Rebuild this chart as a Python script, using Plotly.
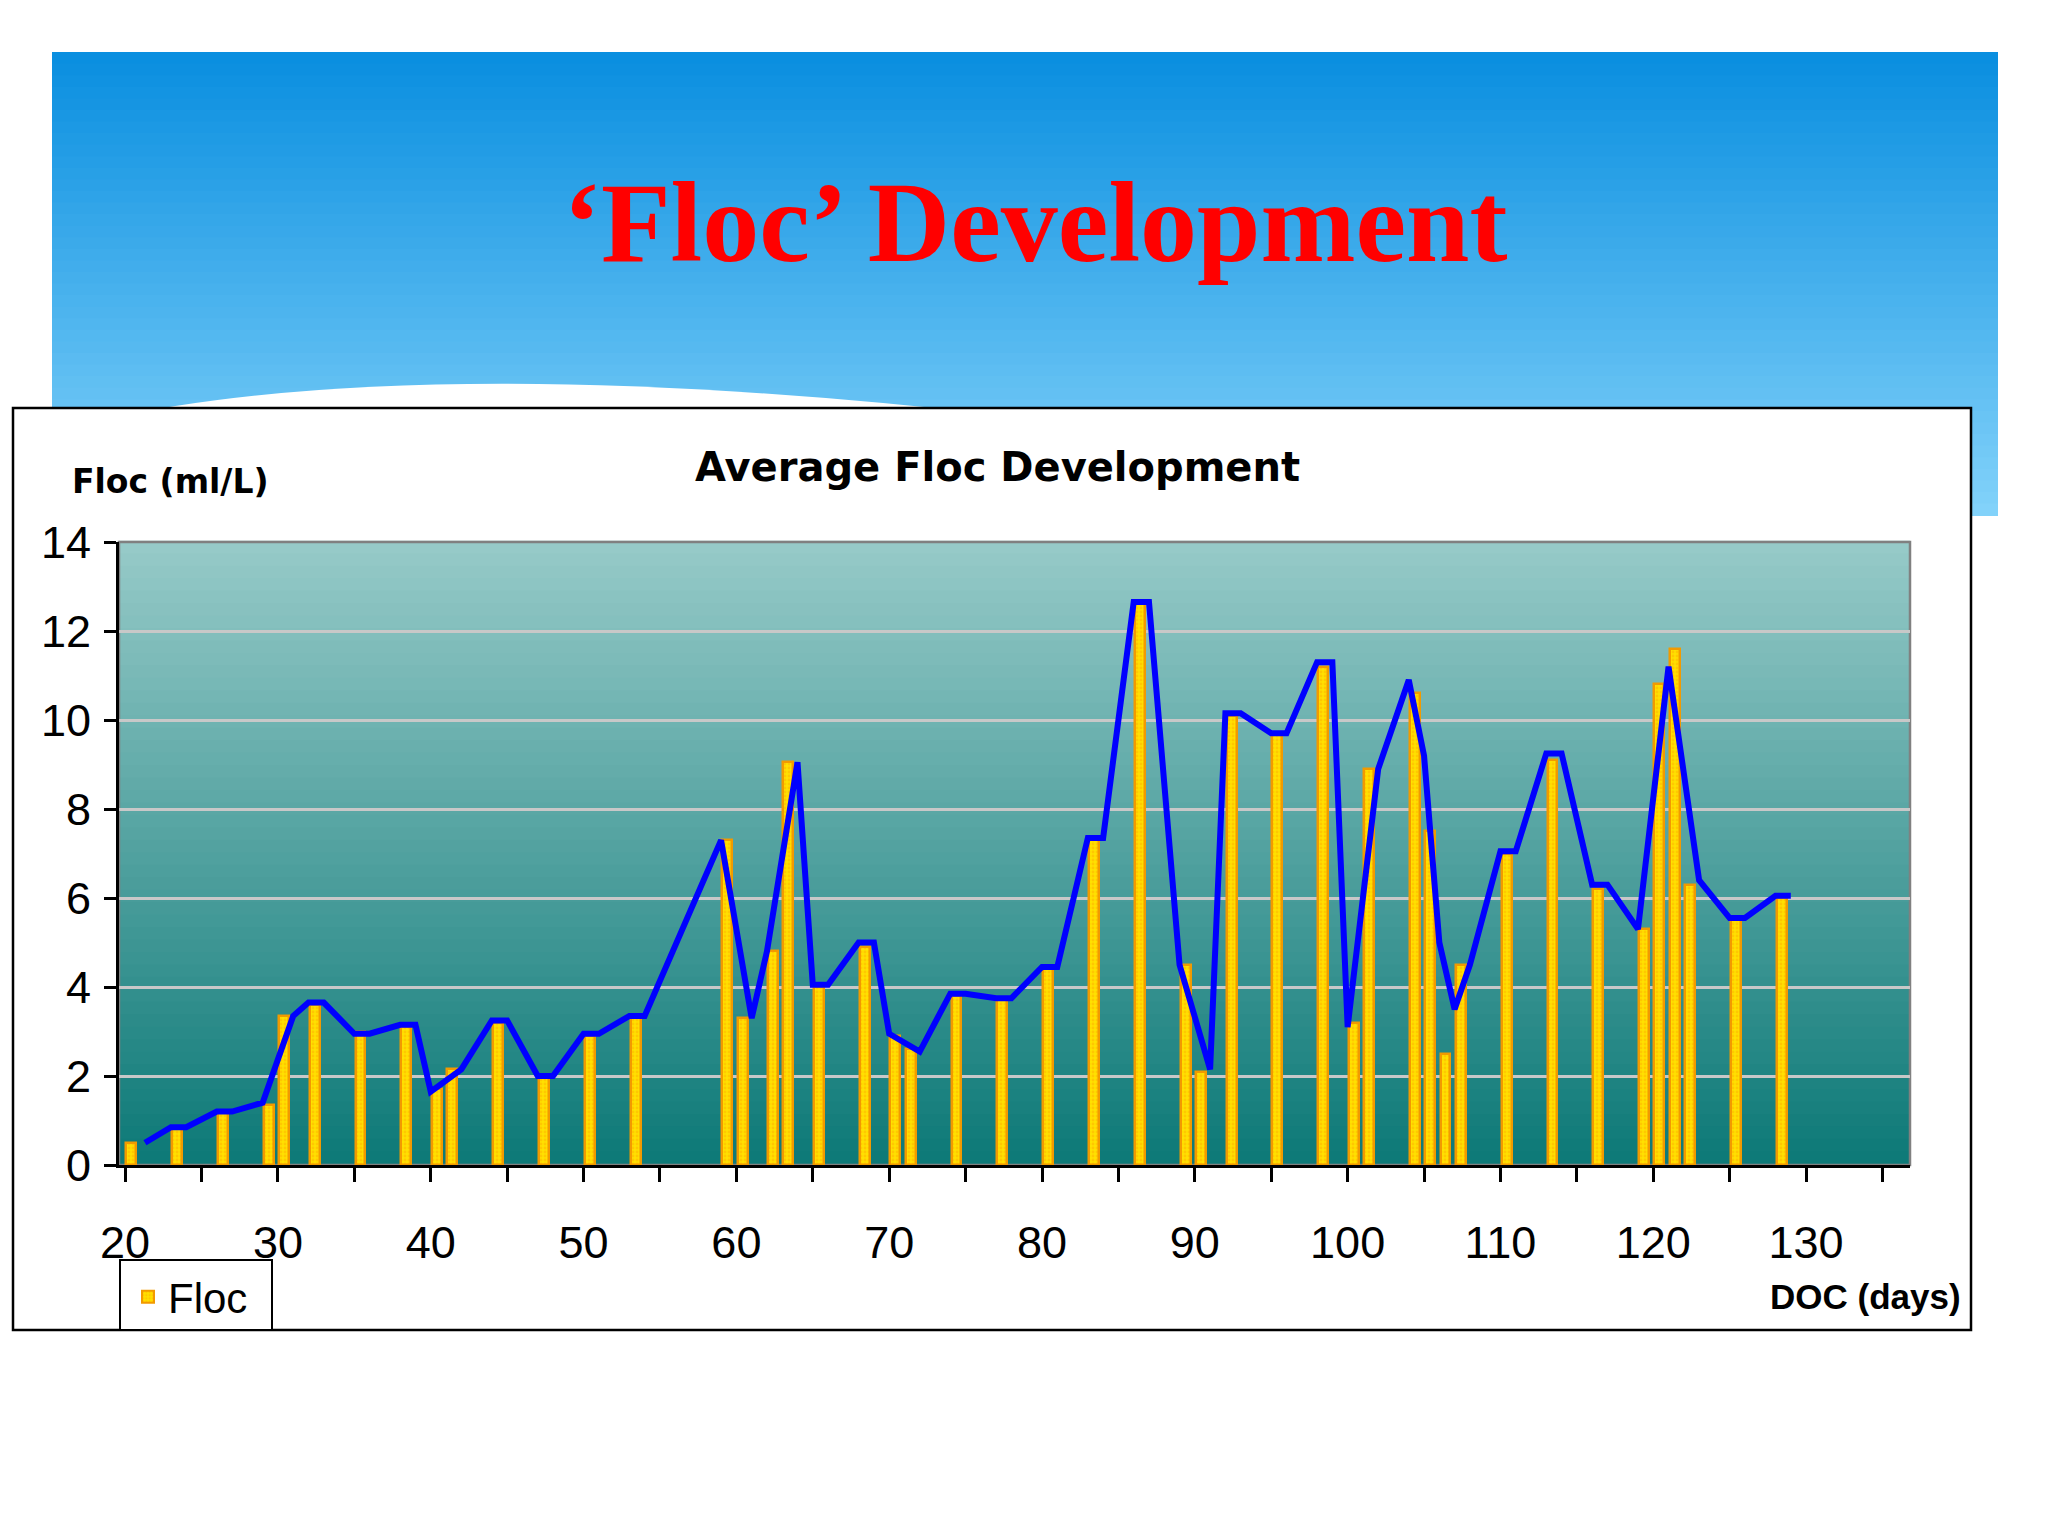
import plotly.graph_objects as go

bar_days = [20, 23, 26, 29, 30, 32, 35, 38, 40, 41, 44, 47, 50, 53, 59, 60, 62, 63, 65, 68, 70, 71,
            74, 77, 80, 83, 86, 89, 90, 92, 95, 98, 100, 101, 104, 105, 106, 107, 110, 113, 116,
            119, 120, 121, 122, 125, 128]
bar_vals = [0.5, 0.8, 1.2, 1.35, 3.35, 3.6, 3.0, 3.1, 1.7, 2.15, 3.2, 2.0, 2.9, 3.3, 7.3, 3.3, 4.8, 9.05,
            4.0, 4.9, 2.9, 2.6, 3.8, 3.7, 4.4, 7.3, 12.6, 4.5, 2.1, 10.1, 9.7, 11.2, 3.2, 8.9, 10.6,
            7.5, 2.5, 4.5, 7.0, 9.1, 6.2, 5.3, 10.8, 11.6, 6.3, 5.5, 6.0]

line_days = [21.3, 23, 24, 26, 27, 29, 31, 32, 33, 35, 36, 38, 39, 40, 42, 44, 45, 47, 48, 50, 51, 53,
             54, 59, 61, 62, 64, 65, 66, 68, 69, 70, 72, 74, 75, 77, 78, 80, 81, 83, 84, 86, 87, 89,
             91, 92, 93, 95, 96, 98, 99, 100, 102, 104, 105, 106, 107, 108, 110, 111, 113, 114, 116,
             117, 119, 121, 122, 123, 125, 126, 128, 129]
line_vals = [0.5, 0.85, 0.85, 1.2, 1.2, 1.4, 3.35, 3.65, 3.65, 2.95, 2.95, 3.15, 3.15, 1.65, 2.15, 3.25,
             3.25, 2.0, 2.0, 2.95, 2.95, 3.35, 3.35, 7.3, 3.3, 4.8, 9.05, 4.05, 4.05, 5.0, 5.0, 2.95,
             2.55, 3.85, 3.85, 3.75, 3.75, 4.45, 4.45, 7.35, 7.35, 12.65, 12.65, 4.5, 2.15, 10.15,
             10.15, 9.7, 9.7, 11.3, 11.3, 3.1, 8.9, 10.9, 9.2, 5.0, 3.5, 4.5, 7.05, 7.05, 9.25, 9.25,
             6.3, 6.3, 5.3, 11.2, 8.8, 6.4, 5.55, 5.55, 6.05, 6.05]

x_tickvals = list(range(20, 140, 5))
x_ticktext = [str(v) if v % 10 == 0 and v <= 130 else "" for v in x_tickvals]

W, H = 2048, 1536
L, R, T, B = 111, 146, 534, 379
PW, PH = W - L - R, H - T - B
D = 8  # shift of page furniture


def px(x):
    return (x - D - L) / PW


def py(y):
    return (H - B - (y - D)) / PH


fig = go.Figure()
fig.add_trace(go.Bar(x=bar_days, y=bar_vals, width=0.65, name="Floc", offset=0.08,
                     marker=dict(color="#ffe000", line=dict(color="#f29a00", width=2.5),
                                 pattern=dict(shape=".", fgcolor="#ffb000", size=4, solidity=0.4))))
fig.add_trace(go.Scatter(x=line_days, y=line_vals, mode="lines", showlegend=False,
                         line=dict(color="#0000ff", width=6)))

shapes = []
n = 40
top, bot = 52, 515
for i in range(n):
    t = i / (n - 1)
    c = (int(10 + t * (130 - 10)), int(143 + t * (210 - 143)), int(224 + t * (250 - 224)))
    y0 = top + (bot - top) * i / n
    y1 = top + (bot - top) * (i + 1) / n + 1
    shapes.append(dict(type="rect", xref="paper", yref="paper", x0=px(52), x1=px(1998),
                       y0=py(y1), y1=py(y0), fillcolor="rgb(%d,%d,%d)" % c,
                       line=dict(width=0), layer="below"))
shapes.append(dict(type="path", xref="paper", yref="paper",
                   path="M %f %f Q %f %f %f %f L %f %f Z" % (
                       px(100), py(420), px(420), py(350), px(1000), py(415),
                       px(100), py(420)),
                   fillcolor="white", line=dict(width=0), layer="below"))
shapes.append(dict(type="rect", xref="paper", yref="paper", x0=px(13), x1=px(1971),
                   y0=py(1330), y1=py(408), fillcolor="white",
                   line=dict(color="black", width=2.5), layer="below"))
m = 50
for i in range(m):
    t = i / (m - 1)
    c = (int(150 - t * (150 - 14)), int(202 - t * (202 - 122)), int(200 - t * (200 - 120)))
    shapes.append(dict(type="rect", xref="x domain", yref="y domain", x0=0, x1=1,
                       y0=1 - (i + 1) / m, y1=1 - i / m + 0.002, fillcolor="rgb(%d,%d,%d)" % c,
                       line=dict(width=0), layer="below"))
shapes.append(dict(type="rect", xref="x domain", yref="y domain", x0=0, x1=1, y0=0, y1=1,
                   line=dict(color="#808080", width=2.5), layer="below"))
shapes.append(dict(type="rect", xref="paper", yref="paper", x0=px(120), x1=px(272),
                   y0=py(1330), y1=py(1260), fillcolor="white",
                   line=dict(color="black", width=2), layer="below"))

annotations = [
    dict(text="<b>\u2018Floc\u2019 Development</b>", x=px(1035), y=py(222), xref="paper", yref="paper",
         showarrow=False, font=dict(family="Liberation Serif", size=114, color="#ff0000"),
         xanchor="center", yanchor="middle"),
    dict(text="<b>Average Floc Development</b>", x=px(997), y=py(467), xref="paper",
         yref="paper", showarrow=False, font=dict(family="DejaVu Sans", size=40, color="black"),
         xanchor="center", yanchor="middle"),
    dict(text="<b>Floc (ml/L)</b>", x=px(70), y=py(481), xref="paper", yref="paper",
         showarrow=False, font=dict(family="DejaVu Sans", size=33, color="black"),
         xanchor="left", yanchor="middle"),
    dict(text="<b>DOC (days)</b>", x=px(1963), y=py(1296), xref="paper", yref="paper",
         showarrow=False, font=dict(family="Liberation Sans", size=35, color="black"),
         xanchor="right", yanchor="middle"),
]

fig.update_layout(
    width=W, height=H, paper_bgcolor="white", plot_bgcolor="rgba(0,0,0,0)",
    margin=dict(l=L, r=R, t=T, b=B, pad=0),
    shapes=shapes, annotations=annotations, bargap=0,
    showlegend=True,
    legend=dict(x=px(128), y=py(1297), xanchor="left", yanchor="middle",
                bgcolor="rgba(0,0,0,0)", font=dict(family="Liberation Sans", size=42, color="black"),
                itemsizing="constant"),
    xaxis=dict(range=[19.6, 136.8], tickvals=x_tickvals, ticktext=x_ticktext, ticks="outside",
               ticklen=14, tickwidth=2.5, tickcolor="black", showline=True, linecolor="black",
               linewidth=3, showgrid=False, zeroline=False, ticklabelstandoff=22,
               tickfont=dict(family="Liberation Sans", size=45, color="black")),
    yaxis=dict(range=[0, 14], dtick=2, ticks="outside", ticklen=12, tickwidth=2.5,
               tickcolor="black", showline=True, linecolor="black", linewidth=3,
               gridcolor="#c8c8c8", gridwidth=2.5, zeroline=False, ticklabelstandoff=4,
               tickfont=dict(family="Liberation Sans", size=45, color="black")),
)
fig.write_html("out.html")
